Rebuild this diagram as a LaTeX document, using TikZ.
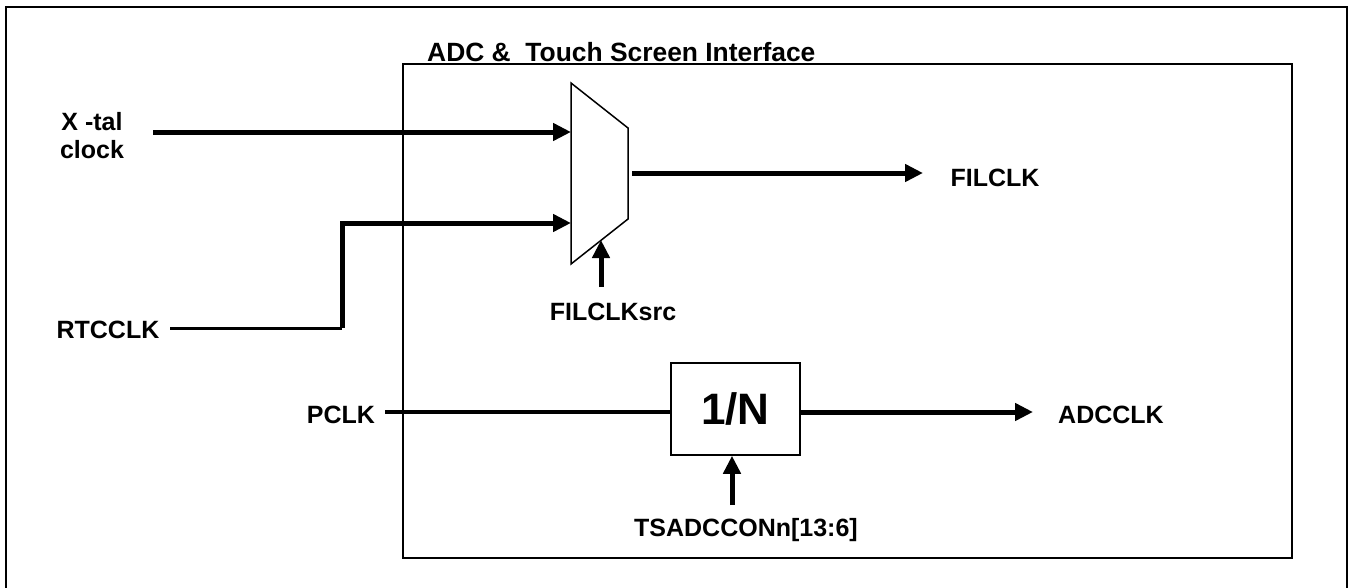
\documentclass[tikz,border=0pt]{standalone}
\usepackage{fontspec}
\setmainfont{Liberation Sans}
\usetikzlibrary{arrows.meta}
\begin{document}
\begin{tikzpicture}[x=1pt,y=-1pt,
  lbl/.style={font=\fontsize{25}{28}\selectfont\bfseries, inner sep=0pt},
  wire/.style={line width=5pt},
  thinwire/.style={line width=3pt},
  arr/.style={-{Triangle[length=18pt,width=17pt]}},
  boxline/.style={line width=2pt}]
\useasboundingbox (0,0) rectangle (1353,587);
% outer frame (bottom edge lies outside the picture)
\draw[line width=2.5pt] (6,590) -- (6,7) -- (1347,7) -- (1347,590);
% inner block
\draw[boxline] (403,64) rectangle (1292,558);
\node[lbl, font=\fontsize{26.4}{28}\selectfont\bfseries, anchor=base west] (title) at (427,61) {ADC \&\ \ Touch Screen Interface};
% mux
\coordinate (m1) at (571,83);
\coordinate (m2) at (628,128);
\coordinate (m3) at (628,219);
\coordinate (m4) at (571,264);
\draw[line width=1.5pt, fill=white] (m1) -- (m2) -- (m3) -- (m4) -- cycle;
\coordinate (in1) at (571,132);
\coordinate (in2) at (571,223);
\coordinate (mout) at (632,173);
\coordinate (msel) at (601,240);
% labels
\node[lbl, align=center] (xtal) at (92,136) {X -tal\\clock};
\node[lbl] (rtc) at (108,330) {RTCCLK};
\node[lbl] (pclk) at (341,415) {PCLK};
\node[lbl] (filclk) at (995,178) {FILCLK};
\node[lbl] (adcclk) at (1111,415) {ADCCLK};
\node[lbl] (filsrc) at (613,312) {FILCLKsrc};
\node[lbl] (tsadc) at (746,530) {TSADCCONn[13:6]};
% divider
\node[draw, line width=1.5pt, minimum width=129pt, minimum height=92pt, inner sep=0pt,
      font=\fontsize{44}{48}\selectfont\bfseries] (div) at (735.5,409) {1/N};
% wire coordinates
\coordinate (xs) at (153,132);
\coordinate (rs) at (170,328);
\coordinate (rc) at (342,328);
\coordinate (ps) at (385,412);
\coordinate (fe) at (923,173);
\coordinate (ae) at (1033,412);
\coordinate (fs) at (601,287);
\coordinate (ts) at (732,505);
% connectors
\draw[wire, arr] (xs) -- (in1);
\draw[thinwire] (rs) -- (rc);
\draw[wire, arr] (rc) |- (in2);
\draw[wire, arr] (mout) -- (fe);
\draw[wire, arr] (fs) -- (msel);
\draw[line width=4pt] (ps) -- (ps -| div.west);
\draw[wire, arr] (ps -| div.east) -- (ae);
\draw[wire, arr] (ts) -- (ts |- div.south);
\end{tikzpicture}
\end{document}
